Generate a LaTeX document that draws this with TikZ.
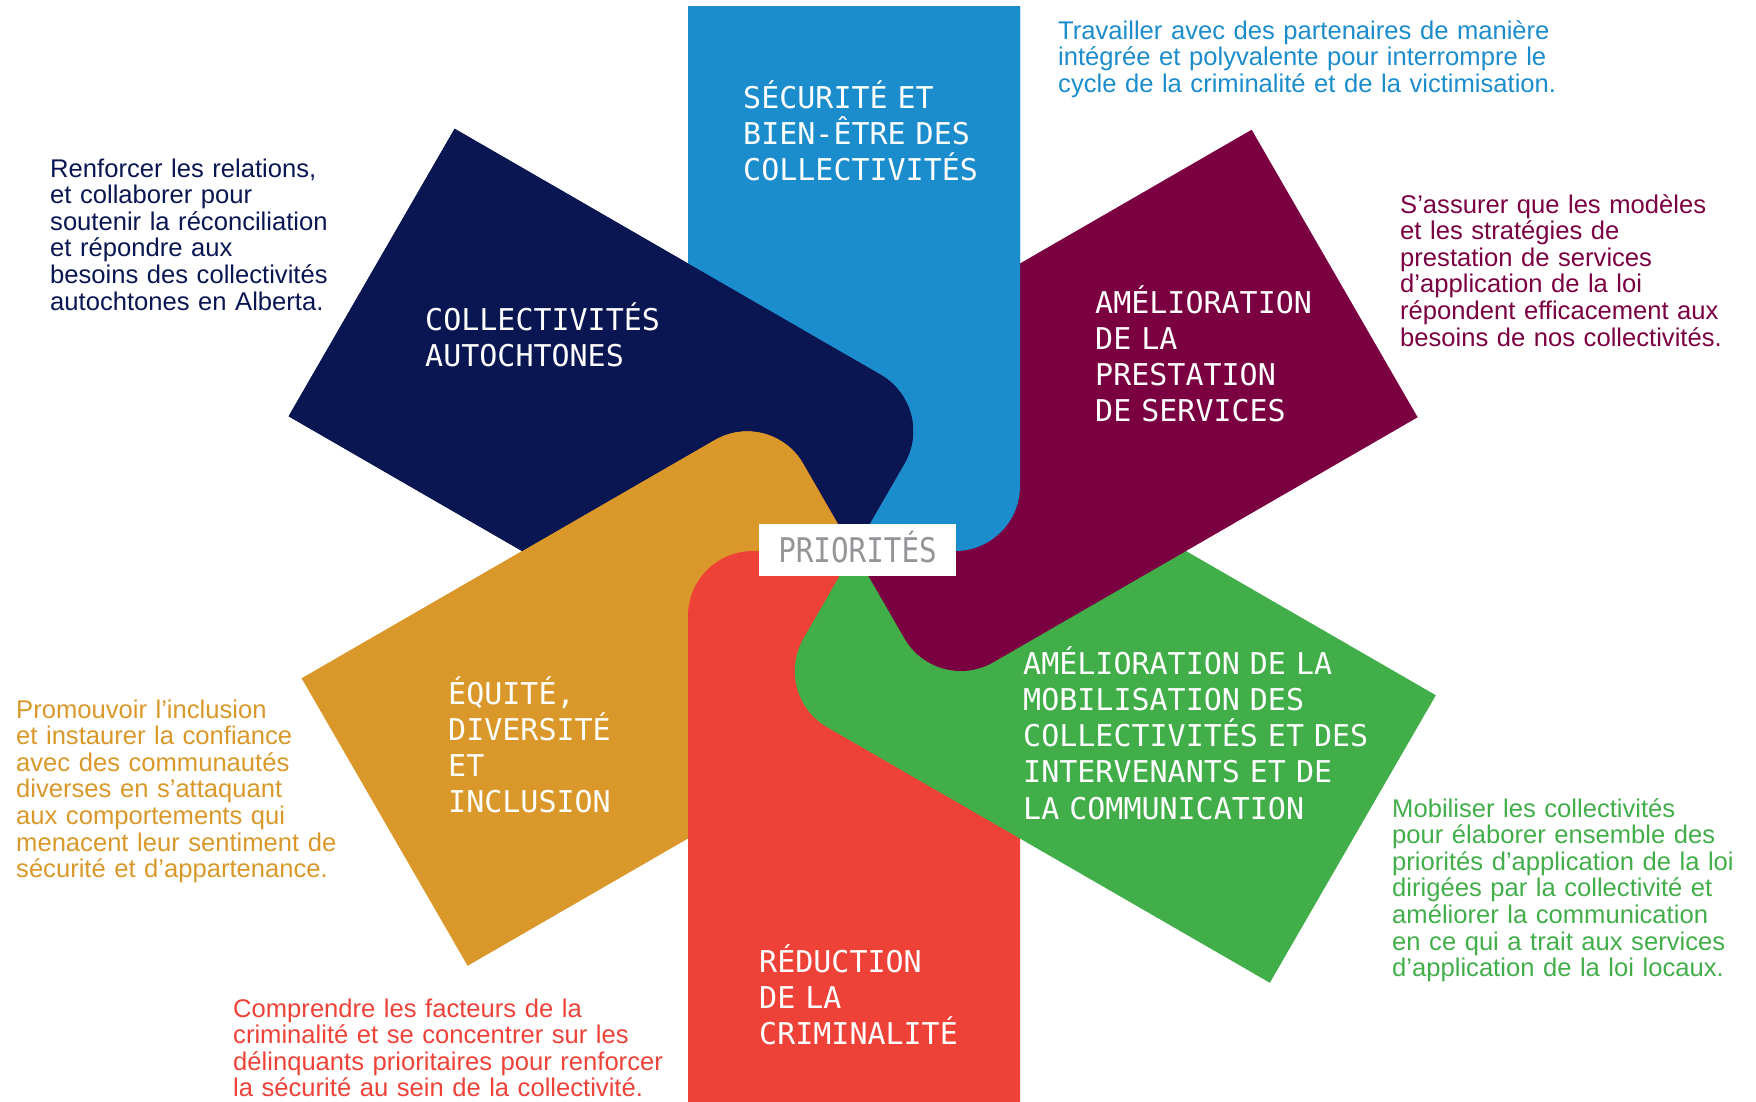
\documentclass[tikz,border=0pt]{standalone}
\usepackage{fontspec}
\setmainfont{Liberation Sans}
\newfontfamily\titlefont{DejaVu Sans Mono}
\newfontfamily\prioritefont[FakeStretch=0.86]{DejaVu Sans Mono}
\definecolor{secblue}{RGB}{27,140,204}
\definecolor{navyblue}{RGB}{9,22,82}
\definecolor{ochre}{RGB}{217,152,41}
\definecolor{crimered}{RGB}{238,66,56}
\definecolor{leafgreen}{RGB}{66,174,74}
\definecolor{wine}{RGB}{123,0,66}
\definecolor{prioritegray}{RGB}{147,149,152}

\begin{document}
\begin{tikzpicture}
[every node/.style={inner sep=0pt},
 title/.style={text=white, align=left, text width=400pt, font=\titlefont\fontsize{30pt}{36.3pt}\selectfont},
 blurb/.style={align=left, text width=560pt, font=\fontsize{25.6pt}{26.6pt}\selectfont}]
\useasboundingbox (0pt,0pt) rectangle (1756pt,-1101pt);
\begin{scope}[shift={(854pt,-551pt)}]
\fill [secblue] (-166pt,545pt) -- (-166pt,0pt) -- (101pt,0pt) arc [start angle=-90, end angle=0, radius=65pt] -- (166pt,545pt) -- cycle;
\fill [navyblue, rotate=60] (-166pt,557pt) -- (-166pt,0pt) -- (101pt,0pt) arc [start angle=-90, end angle=0, radius=65pt] -- (166pt,557pt) -- cycle;
\fill [ochre, rotate=120] (-166pt,542pt) -- (-166pt,0pt) -- (101pt,0pt) arc [start angle=-90, end angle=0, radius=65pt] -- (166pt,542pt) -- cycle;
\fill [crimered, rotate=180] (-166pt,560pt) -- (-166pt,0pt) -- (101pt,0pt) arc [start angle=-90, end angle=0, radius=65pt] -- (166pt,560pt) -- cycle;
\fill [leafgreen, rotate=240] (-166pt,576pt) -- (-166pt,0pt) -- (101pt,0pt) arc [start angle=-90, end angle=0, radius=65pt] -- (166pt,576pt) -- cycle;
\fill [wine, rotate=300] (-166pt,555pt) -- (-166pt,0pt) -- (101pt,0pt) arc [start angle=-90, end angle=0, radius=65pt] -- (166pt,555pt) -- cycle;
\begin{scope}
\clip [rotate=30] (0pt,-900pt) rectangle (900pt,900pt);
\clip [rotate=60] (-2000pt,-2000pt) -- (-2000pt,2000pt) -- (2000pt,2000pt) -- (2000pt,-2000pt) -- cycle (-166pt,557pt) -- (-166pt,0pt) -- (101pt,0pt) arc [start angle=-90, end angle=0, radius=65pt] -- (166pt,557pt) -- cycle;
\fill [secblue] (-166pt,545pt) -- (-166pt,0pt) -- (101pt,0pt) arc [start angle=-90, end angle=0, radius=65pt] -- (166pt,545pt) -- cycle;
\end{scope}
\begin{scope}
\clip [rotate=120] (-2000pt,-2000pt) -- (-2000pt,2000pt) -- (2000pt,2000pt) -- (2000pt,-2000pt) -- cycle (-166pt,542pt) -- (-166pt,0pt) -- (101pt,0pt) arc [start angle=-90, end angle=0, radius=65pt] -- (166pt,542pt) -- cycle;
\clip [rotate=180] (-2000pt,-2000pt) -- (-2000pt,2000pt) -- (2000pt,2000pt) -- (2000pt,-2000pt) -- cycle (-166pt,560pt) -- (-166pt,0pt) -- (101pt,0pt) arc [start angle=-90, end angle=0, radius=65pt] -- (166pt,560pt) -- cycle;
\fill [navyblue, rotate=60] (-166pt,557pt) -- (-166pt,0pt) -- (101pt,0pt) arc [start angle=-90, end angle=0, radius=65pt] -- (166pt,557pt) -- cycle;
\end{scope}
\end{scope}
\node (prio) [fill=white, minimum width=197pt, minimum height=52pt, text=prioritegray, text height=24.8pt, text depth=0pt, font=\prioritefont\fontsize{34pt}{34pt}\selectfont] at (857.5pt,-550pt) {PRIORITÉS};
\node (tsecurite) [title, anchor=base west] at (743pt,-108pt) {SÉCURITÉ ET\\BIEN-ÊTRE DES\\COLLECTIVITÉS};
\node (tautochtones) [title, anchor=base west] at (425pt,-330pt) {COLLECTIVITÉS\\AUTOCHTONES};
\node (tprestation) [title, anchor=base west] at (1095pt,-313pt) {AMÉLIORATION\\DE LA\\PRESTATION\\DE SERVICES};
\node (tmobilisation) [title, anchor=base west] at (1023pt,-674pt) {AMÉLIORATION DE LA\\MOBILISATION DES\\COLLECTIVITÉS ET DES\\INTERVENANTS ET DE\\LA COMMUNICATION};
\node (tequite) [title, anchor=base west] at (448pt,-704pt) {ÉQUITÉ,\\DIVERSITÉ\\ET\\INCLUSION};
\node (tcriminalite) [title, anchor=base west] at (759pt,-972pt) {RÉDUCTION\\DE LA\\CRIMINALITÉ};
\node (dsecurite) [blurb, text=secblue, anchor=base west] at (1058pt,-39pt) {Travailler avec des partenaires de manière\\intégrée et polyvalente pour interrompre le\\cycle de la criminalité et de la victimisation.};
\node (dautochtones) [blurb, text=navyblue, anchor=base west] at (50pt,-177pt) {Renforcer les relations,\\et collaborer pour\\soutenir la réconciliation\\et répondre aux\\besoins des collectivités\\autochtones en Alberta.};
\node (dprestation) [blurb, text=wine, anchor=base west] at (1400pt,-213pt) {S’assurer que les modèles\\et les stratégies de\\prestation de services\\d’application de la loi\\répondent efficacement aux\\besoins de nos collectivités.};
\node (dmobilisation) [blurb, text=leafgreen, anchor=base west] at (1392pt,-817pt) {Mobiliser les collectivités\\pour élaborer ensemble des\\priorités d’application de la loi\\dirigées par la collectivité et\\améliorer la communication\\en ce qui a trait aux services\\d’application de la loi locaux.};
\node (dequite) [blurb, text=ochre, anchor=base west] at (16pt,-718pt) {Promouvoir l’inclusion\\et instaurer la confiance\\avec des communautés\\diverses en s’attaquant\\aux comportements qui\\menacent leur sentiment de\\sécurité et d’appartenance.};
\node (dcriminalite) [blurb, text=crimered, anchor=base west] at (233pt,-1017pt) {Comprendre les facteurs de la\\criminalité et se concentrer sur les\\délinquants prioritaires pour renforcer\\la sécurité au sein de la collectivité.};
\end{tikzpicture}
\end{document}
